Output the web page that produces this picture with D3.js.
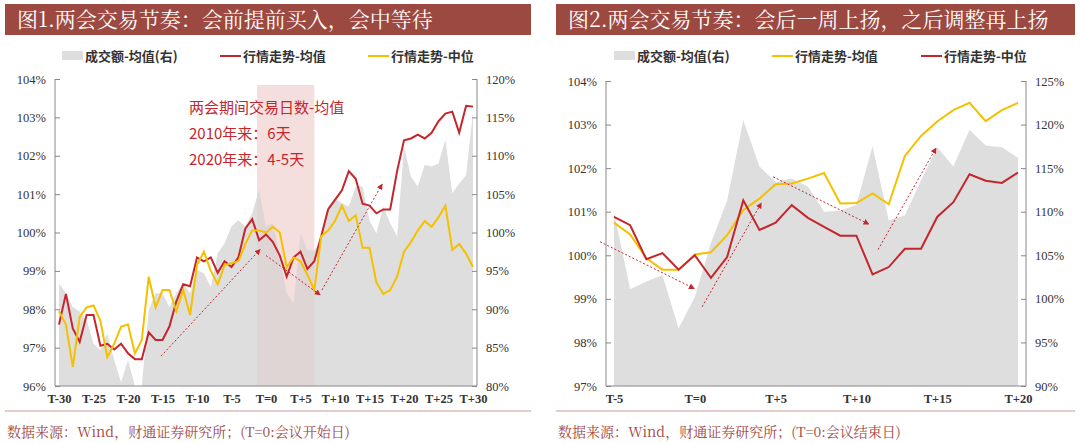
<!DOCTYPE html>
<html>
<head>
<meta charset="utf-8">
<script src="https://cdn.jsdelivr.net/npm/d3@7"></script>
<style>
body { margin: 0; background: #fff; }
text { font-family: "Liberation Serif", "Noto Sans CJK SC", serif; }
</style>
</head>
<body>
<script>
// ---- panel 1 data (T-30 .. T+30)
var days1 = d3.range(-30, 31);
var mean1 = [97.6,98.4,97.5,97.15,97.85,97.85,97.05,97.1,96.95,97.1,96.85,96.7,96.7,97.4,97.2,97.2,97.55,98.2,98.65,98.6,
  99.35,99.25,99.35,98.95,99.25,99.1,99.35,100.1,100.35,99.8,99.95,99.75,99.4,98.85,99.35,99.5,99.05,99.25,99.9,100.6,
  100.85,101.1,101.6,101.4,100.75,100.7,100.5,100.6,100.6,101.6,102.4,102.45,102.55,102.45,102.6,102.9,103.1,103.15,102.6,103.3,103.28];
var median1 = [97.95,97.6,96.5,97.8,98.05,98.1,97.7,96.75,97.1,97.55,97.6,96.85,97.2,98.85,98.05,98.5,98.5,97.95,98.5,97.85,
  99.15,99.5,99.0,98.65,99.15,99.2,99.25,99.7,100.05,100.05,100.0,100.15,100.0,99.1,99.35,99.25,98.9,98.5,99.9,100.05,
  100.3,100.7,100.3,100.45,99.6,99.6,98.7,98.4,98.5,98.85,99.5,99.75,100.05,100.3,100.15,100.4,100.7,99.55,99.7,99.45,99.1];
var volume1 = [93.4,92.1,90.3,89.7,88.6,85.5,84.7,86.8,83.4,80.5,83.4,80,80,89.9,92.1,92.1,90.3,92.1,93.4,92.1,
  95.1,94.7,92.9,97.3,98.6,100.8,101.6,100.8,102.5,105.6,100.8,101.2,96.9,92.1,90.8,99.9,97.7,97.7,99.0,103.4,
  104.5,103.8,103.4,106,106,101.6,99.9,103.4,101.2,99.5,111.2,107.3,106,108.8,108.6,109,112.1,105.1,106.4,107.5,115.8];
var ticks1 = [-30,-25,-20,-15,-10,-5,0,5,10,15,20,25,30];
var arrows1 = [[[-15.2,96.78],[-0.9,99.55]], [[0,99.4],[7.8,98.38]], [[8.1,98.5],[16.8,101.25]]];
var notes1 = ["两会期间交易日数-均值", "2010年来：6天", "2020年来：4-5天"];

// ---- panel 2 data (T-5 .. T+20)
var days2 = d3.range(-5, 21);
var mean2 = [100.75,100.48,99.93,99.67,99.67,100.02,100.07,100.46,101.04,101.3,101.63,101.65,101.76,101.89,101.19,101.2,
  101.42,101.17,102.28,102.74,103.07,103.33,103.5,103.08,103.33,103.5];
var median2 = [100.88,100.69,99.91,100.05,99.67,100.0,99.48,99.96,101.26,100.58,100.75,101.15,100.86,100.65,100.45,100.45,
  99.56,99.73,100.15,100.15,100.88,101.22,101.86,101.71,101.66,101.9];
var volume2 = [110.0,101.1,102.0,102.7,96.6,100.2,106.4,111.3,120.5,115.2,113.4,113.8,112.9,110.0,110.1,110.8,
  117.5,109.0,109.6,113.6,117.4,115.2,119.4,117.6,117.4,116.2];
var ticks2 = [-5,0,5,10,15,20];
var arrows2 = [[[-5.86,100.31],[-0.06,99.24]], [[0.46,98.82],[4.1,101.19]], [[4.85,101.8],[10.74,100.72]], [[11.34,100.13],[14.91,102.45]]];

var RED = "#c4262c", YEL = "#f5c000", GRAY = "#dedede", BAR = "#9c4941";

var svg = d3.select("body").append("svg").attr("width", 1080).attr("height", 443);
svg.append("defs").append("marker").attr("id", "ah").attr("viewBox", "0 0 10 10")
  .attr("refX", 8).attr("refY", 5).attr("markerWidth", 6).attr("markerHeight", 6).attr("orient", "auto")
  .append("path").attr("d", "M0,0L10,5L0,10Z").attr("fill", RED);

function label(d) { return d === 0 ? "T=0" : (d < 0 ? "T" + d : "T+" + d); }

function panel(o) {
  var g = svg.append("g");
  g.append("rect").attr("x", o.bx).attr("y", 4).attr("width", o.bw).attr("height", 31).attr("fill", BAR);
  g.append("text").attr("x", o.bx + 12).attr("y", 27).attr("fill", "#fff").attr("font-size", 21)
    .style("font-family", "'Noto Serif CJK SC','Noto Sans CJK SC'").text(o.title);
  g.append("line").attr("x1", o.bx).attr("x2", o.bx + o.bw).attr("y1", 411).attr("y2", 411)
    .attr("stroke", "#c99a96").attr("stroke-width", 1);
  g.append("text").attr("x", o.bx + 2).attr("y", 437).attr("fill", "#a2463f").attr("font-size", 14)
    .style("font-family", "'Noto Serif CJK SC','Noto Sans CJK SC'").text(o.source);

  var x = d3.scaleLinear().domain(d3.extent(o.days)).range([o.x0, o.x1]);
  var yl = d3.scaleLinear().domain(o.ld).range([o.yb, o.yt]);
  var yr = d3.scaleLinear().domain(o.rd).range([o.yb, o.yt]);

  if (o.band) {
    g.append("rect").attr("x", x(o.band[0])).attr("y", 85).attr("width", x(o.band[1]) - x(o.band[0]))
      .attr("height", o.yb - 85).attr("fill", "#f3d6d6").attr("opacity", 0.5);
  }
  g.append("path").datum(o.volume).attr("fill", GRAY)
    .attr("d", d3.area().x(function(d, i){ return x(o.days[i]); }).y0(o.yb).y1(function(d){ return yr(d); }));
  if (o.band) {
    g.append("rect").attr("x", x(o.band[0])).attr("y", 85).attr("width", x(o.band[1]) - x(o.band[0]))
      .attr("height", o.yb - 85).attr("fill", "#e8b4b4").attr("opacity", 0.22);
  }

  var line = d3.line().x(function(d, i){ return x(o.days[i]); }).y(function(d){ return yl(d); });
  g.append("path").datum(o.s1).attr("fill", "none").attr("stroke", o.c1).attr("stroke-width", 2).attr("d", line);
  g.append("path").datum(o.s2).attr("fill", "none").attr("stroke", o.c2).attr("stroke-width", 2).attr("d", line);

  o.arrows.forEach(function(a) {
    g.append("line").attr("x1", x(a[0][0])).attr("y1", yl(a[0][1])).attr("x2", x(a[1][0])).attr("y2", yl(a[1][1]))
      .attr("stroke", RED).attr("stroke-width", 1).attr("stroke-dasharray", "2,2").attr("marker-end", "url(#ah)");
  });

  var la = g.append("g").attr("transform", "translate(" + o.ax0 + ",0)")
    .call(d3.axisLeft(yl).tickValues(o.lt).tickSize(-5).tickPadding(9).tickFormat(function(d){ return d + "%"; }));
  var ra = g.append("g").attr("transform", "translate(" + o.ax1 + ",0)")
    .call(d3.axisRight(yr).tickValues(o.rt).tickSize(-5).tickPadding(9).tickFormat(function(d){ return d + "%"; }));
  var xa = g.append("g").attr("transform", "translate(0," + o.yb + ")")
    .call(d3.axisBottom(x).tickValues(o.xt).tickSize(0).tickPadding(8).tickFormat(label));
  [la, ra, xa].forEach(function(a) {
    a.select(".domain").attr("stroke", "#888");
    a.selectAll(".tick line").attr("stroke", "#888");
    a.selectAll("text").attr("fill", "#333").attr("font-size", 12.5).style("font-family", "'Liberation Serif'");
  });
  la.select(".domain").attr("d", "M0," + o.yt + "V" + o.yb);
  ra.select(".domain").attr("d", "M0," + o.yt + "V" + o.yb);
  xa.select(".domain").attr("d", "M" + o.ax0 + ",0H" + o.ax1);
  xa.selectAll("text").attr("font-weight", "bold");

  // legend
  var lg = g.append("g").attr("font-size", 13).attr("font-weight", "bold").attr("fill", "#333");
  lg.append("rect").attr("x", o.lx[0]).attr("y", 51).attr("width", 21).attr("height", 9).attr("fill", GRAY);
  lg.append("line").attr("x1", o.lx[1]).attr("x2", o.lx[1] + 21).attr("y1", 56).attr("y2", 56).attr("stroke", o.c1).attr("stroke-width", 2);
  lg.append("line").attr("x1", o.lx[2]).attr("x2", o.lx[2] + 21).attr("y1", 56).attr("y2", 56).attr("stroke", o.c2).attr("stroke-width", 2);
  o.names.forEach(function(n, i) {
    lg.append("text").attr("x", o.lx[i] + 23).attr("y", 61).style("font-family", "'Noto Sans CJK SC'").text(n);
  });

  if (o.notes) {
    o.notes.forEach(function(n, i) {
      g.append("text").attr("x", 189).attr("y", 113 + i * 26).attr("fill", RED).attr("font-size", 15)
        .style("font-family", "'Noto Sans CJK SC'").text(n);
    });
  }
}

panel({
  bx: 5, bw: 526, title: "图1.两会交易节奏：会前提前买入，会中等待",
  source: "数据来源：Wind，财通证券研究所；(T=0:会议开始日)",
  days: days1, s1: mean1, s2: median1, volume: volume1, c1: RED, c2: YEL,
  x0: 59, x1: 473, ax0: 55, ax1: 477, yt: 79, yb: 386,
  ld: [96, 104], rd: [80, 120], lt: d3.range(96, 105), rt: d3.range(80, 121, 5), xt: ticks1,
  band: [-1.3, 7], arrows: arrows1, notes: notes1,
  lx: [62, 220, 368], names: ["成交额-均值(右)", "行情走势-均值", "行情走势-中位"]
});
panel({
  bx: 556, bw: 519, title: "图2.两会交易节奏：会后一周上扬，之后调整再上扬",
  source: "数据来源：Wind，财通证券研究所；(T=0:会议结束日)",
  days: days2, s1: mean2, s2: median2, volume: volume2, c1: YEL, c2: RED,
  x0: 614, x1: 1018, ax0: 606, ax1: 1026, yt: 81, yb: 386,
  ld: [97, 104], rd: [90, 125], lt: d3.range(97, 105), rt: d3.range(90, 126, 5), xt: ticks2,
  arrows: arrows2,
  lx: [614, 772, 921], names: ["成交额-均值(右)", "行情走势-均值", "行情走势-中位"]
});
</script>
</body>
</html>
